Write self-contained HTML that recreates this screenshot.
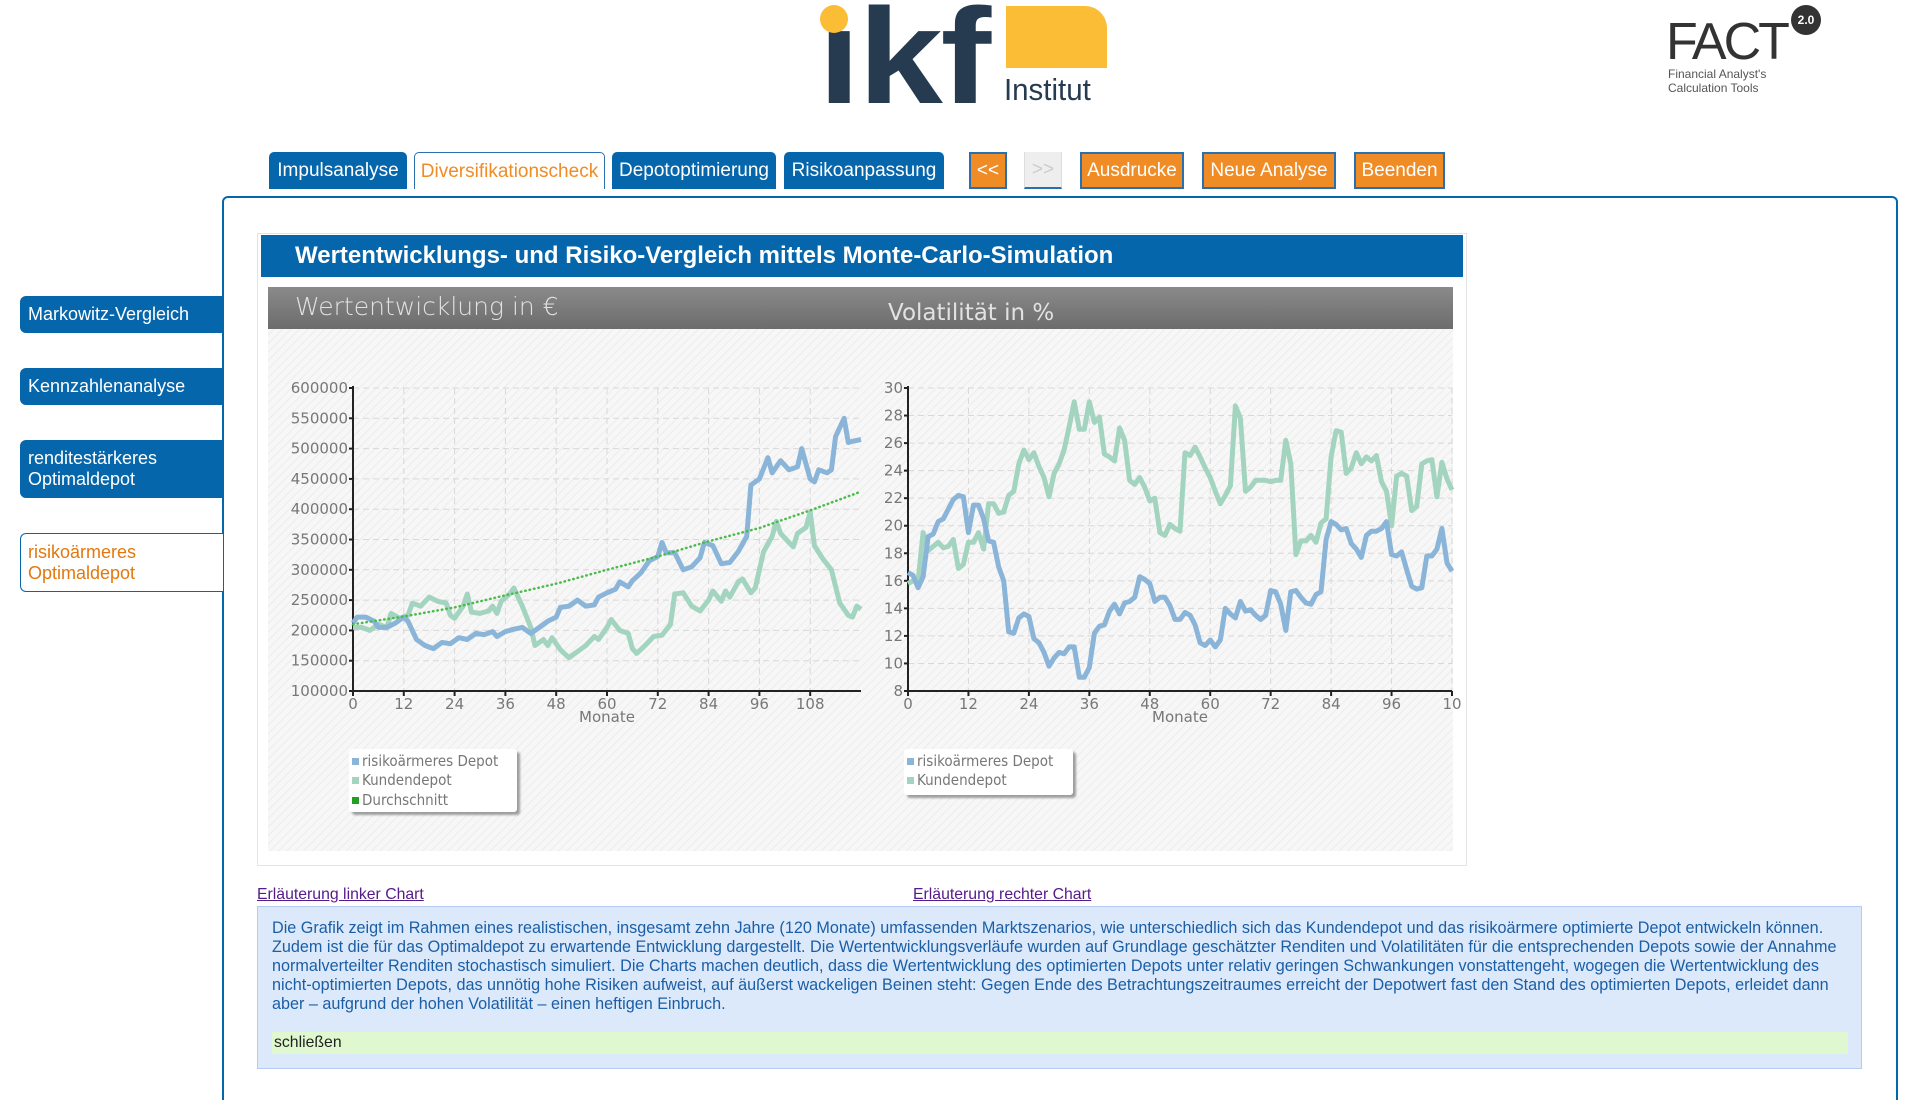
<!DOCTYPE html>
<html><head><meta charset="utf-8">
<style>
html,body{margin:0;width:1920px;height:1100px;overflow:hidden;}
body{position:relative;background:#fff;font-family:"Liberation Sans",Arial,sans-serif;}
.abs{position:absolute;}
.tab{position:absolute;top:152px;height:37px;box-sizing:border-box;color:#fff;font-size:19px;line-height:37px;text-align:center;white-space:nowrap;}
.tb{background:#0566ab;border-radius:5px 5px 0 0;}
.to{background:#ef8c25;border:2px solid #2a6fb0;line-height:33px;}
.side{position:absolute;left:20px;width:203px;box-sizing:border-box;background:#0566ab;color:#fff;font-size:18px;padding-left:8px;border-radius:6px 0 0 6px;display:flex;align-items:center;line-height:21px;}
</style></head><body>
<!-- logo -->
<div class="abs" style="left:812px;top:0;width:300px;height:110px;">
  <div class="abs" style="left:6px;font-size:136px;font-weight:bold;color:#263a50;letter-spacing:-2px;line-height:136px;transform:scaleX(1.12);transform-origin:0 0;top:-12px;">ık<span style="letter-spacing:0">f</span></div>
  <div class="abs" style="left:8px;top:5px;width:28px;height:28px;border-radius:50%;background:#fbbd36;"></div>
  <div class="abs" style="left:194px;top:6px;width:101px;height:62px;background:#fbbd36;border-radius:0 22px 0 0;"></div>
  <div class="abs" style="left:192px;top:72px;font-size:31px;color:#263a50;transform:scaleX(0.95);transform-origin:0 0;">Institut</div>
</div>
<div class="abs" style="left:1666px;top:4px;width:160px;height:95px;">
  <div class="abs" style="left:0;top:10px;font-size:52px;color:#333;letter-spacing:-3px;line-height:56px;">FACT</div>
  <div class="abs" style="left:125px;top:1px;width:30px;height:30px;border-radius:50%;background:#333;color:#fff;font-size:12px;font-weight:bold;line-height:30px;text-align:center;">2.0</div>
  <div class="abs" style="left:2px;top:63px;font-size:12px;color:#555;line-height:14px;">Financial Analyst's<br>Calculation Tools</div>
</div>
<!-- tabs -->
<div class="tab tb" style="left:269px;width:138px;">Impulsanalyse</div>
<div class="tab" style="left:414px;width:191px;border:1px solid #2a6fb0;border-bottom:none;border-radius:5px 5px 0 0;color:#ef8c25;background:#fff;">Diversifikationscheck</div>
<div class="tab tb" style="left:612px;width:164px;">Depotoptimierung</div>
<div class="tab tb" style="left:784px;width:160px;">Risikoanpassung</div>
<div class="tab to" style="left:969px;width:38px;">&lt;&lt;</div>
<div class="tab" style="left:1024px;width:38px;background:#eee;border:2px solid #2a6fb0;border-top:none;border-left:1px solid #ddd;border-right:1px solid #ddd;color:#ccc;line-height:35px;">&gt;&gt;</div>
<div class="tab to" style="left:1080px;width:104px;">Ausdrucke</div>
<div class="tab to" style="left:1202px;width:134px;">Neue Analyse</div>
<div class="tab to" style="left:1354px;width:91px;">Beenden</div>
<!-- main panel -->
<div class="abs" style="left:222px;top:196px;width:1676px;height:904px;border:2px solid #0566ab;border-bottom:none;border-radius:6px 6px 0 0;box-sizing:border-box;"></div>
<!-- sidebar -->
<div class="side" style="top:296px;height:37px;">Markowitz-Vergleich</div>
<div class="side" style="top:368px;height:37px;">Kennzahlenanalyse</div>
<div class="side" style="top:440px;height:58px;">renditestärkeres<br>Optimaldepot</div>
<div class="side" style="top:533px;height:59px;background:#fff;color:#e2780e;border:1px solid #0566ab;border-right:none;padding-left:7px;">risikoärmeres<br>Optimaldepot</div>
<!-- chart box -->
<div class="abs" style="left:257px;top:233px;width:1210px;height:633px;border:1px solid #e4e4e4;box-sizing:border-box;"></div>
<div class="abs" style="left:261px;top:235px;width:1202px;height:42px;background:#0566ab;color:#fff;font-weight:bold;font-size:24px;line-height:42px;box-sizing:border-box;padding-left:34px;white-space:nowrap;">Wertentwicklungs- und Risiko-Vergleich mittels Monte-Carlo-Simulation</div>
<svg class="abs" style="left:0;top:0" width="1920" height="1100" id="charts">
  <defs>
    <pattern id="hatch" width="6" height="6" patternUnits="userSpaceOnUse" patternTransform="rotate(45)">
      <rect width="6" height="6" fill="#f7f7f7"/><line x1="0" y1="0" x2="0" y2="6" stroke="#ececec" stroke-width="2"/>
    </pattern>
    <linearGradient id="gb" x1="0" y1="0" x2="0" y2="1"><stop offset="0" stop-color="#8a8a8a"/><stop offset="1" stop-color="#6c6c6c"/></linearGradient>
    <filter id="sh"><feDropShadow dx="3" dy="3" stdDeviation="1" flood-color="#888" flood-opacity="0.8"/></filter>
  </defs>
  <rect x="268" y="287" width="1185" height="42" fill="url(#gb)"/>
  <rect x="268" y="329" width="1185" height="522" fill="url(#hatch)"/>
  <text x="295" y="315" font-size="25" fill="#e2e2e2" font-family="DejaVu Sans, sans-serif" font-weight="300">Wertentwicklung in €</text>
  <text x="888" y="320" font-size="23" fill="#e2e2e2" font-family="DejaVu Sans, sans-serif">Volatilität in %</text>
  <g id="lc"></g><g id="rc"></g>
  <g>
    <rect x="349" y="749" width="168" height="63" fill="#fff" filter="url(#sh)" rx="3"/>
    <rect x="352" y="758" width="7" height="7" fill="#8ab4d8"/><text x="362" y="766" font-size="15" fill="#777" font-family="DejaVu Sans Condensed, DejaVu Sans, sans-serif">risikoärmeres Depot</text>
    <rect x="352" y="777" width="7" height="7" fill="#a3d4bf"/><text x="362" y="785" font-size="15" fill="#777" font-family="DejaVu Sans Condensed, DejaVu Sans, sans-serif">Kundendepot</text>
    <rect x="352" y="797" width="7" height="7" fill="#22a022"/><text x="362" y="805" font-size="15" fill="#777" font-family="DejaVu Sans Condensed, DejaVu Sans, sans-serif">Durchschnitt</text>
  </g>
  <g>
    <rect x="904" y="749" width="169" height="46" fill="#fff" filter="url(#sh)" rx="3"/>
    <rect x="907" y="758" width="7" height="7" fill="#8ab4d8"/><text x="917" y="766" font-size="15" fill="#777" font-family="DejaVu Sans Condensed, DejaVu Sans, sans-serif">risikoärmeres Depot</text>
    <rect x="907" y="777" width="7" height="7" fill="#a3d4bf"/><text x="917" y="785" font-size="15" fill="#777" font-family="DejaVu Sans Condensed, DejaVu Sans, sans-serif">Kundendepot</text>
  </g>
</svg>
<a class="abs" style="left:257px;top:886px;font-size:15.8px;color:#551a8b;text-decoration:underline;">Erläuterung linker Chart</a>
<a class="abs" style="left:913px;top:886px;font-size:15.8px;color:#551a8b;text-decoration:underline;">Erläuterung rechter Chart</a>
<div class="abs" style="left:257px;top:906px;width:1605px;height:163px;background:#dce9fb;border:1px solid #b8c9f2;box-sizing:border-box;"></div>
<div class="abs" style="left:272px;top:919px;font-size:16.2px;line-height:19px;color:#1a5ea6;white-space:nowrap;">Die Grafik zeigt im Rahmen eines realistischen, insgesamt zehn Jahre (120 Monate) umfassenden Marktszenarios, wie unterschiedlich sich das Kundendepot und das risikoärmere optimierte Depot entwickeln können.<br>Zudem ist die für das Optimaldepot zu erwartende Entwicklung dargestellt. Die Wertentwicklungsverläufe wurden auf Grundlage geschätzter Renditen und Volatilitäten für die entsprechenden Depots sowie der Annahme<br>normalverteilter Renditen stochastisch simuliert. Die Charts machen deutlich, dass die Wertentwicklung des optimierten Depots unter relativ geringen Schwankungen vonstattengeht, wogegen die Wertentwicklung des<br>nicht-optimierten Depots, das unnötig hohe Risiken aufweist, auf äußerst wackeligen Beinen steht: Gegen Ende des Betrachtungszeitraumes erreicht der Depotwert fast den Stand des optimierten Depots, erleidet dann<br>aber – aufgrund der hohen Volatilität – einen heftigen Einbruch.</div>
<div class="abs" style="left:272px;top:1032px;width:1576px;height:22px;background:#e0f8d0;font-size:15.8px;line-height:22px;color:#222;padding-left:2px;box-sizing:border-box;">schließen</div>
<script>
// Left chart data (values in thousand €)
const leftMonthsBlue=[0,1,3,5,6,8,10,12,13,15,17,19,21,23,25,27,29,31,33,34,36,38,40,42,44,46,48,49,51,53,55,57,58,60,62,63,65,66,68,70,72,73,74,76,78,80,82,83,85,87,89,91,93,94,96,98,99,101,103,105,106,108,109,110,112,113,114,116,117,118,120];
const leftBlue=[212,222,222,215,205,205,212,222,215,185,175,170,180,178,188,185,195,193,198,190,198,202,205,195,205,215,222,238,240,250,240,242,255,262,268,280,272,282,295,315,322,345,328,328,300,305,320,345,340,310,312,330,355,440,450,485,460,480,465,470,500,450,445,465,460,465,520,550,510,512,515];
const leftMonthsGreen=[0,2,4,6,8,9,11,13,14,16,18,20,22,23,24,26,27,28,30,32,33,34,35,37,38,40,42,43,45,46,47,49,51,53,55,57,58,60,61,63,65,66,67,69,71,73,75,76,78,80,82,84,85,87,88,89,91,92,94,95,97,99,100,101,103,104,105,107,108,109,111,113,115,117,118,119,120];
const leftGreen=[205,205,200,210,205,228,220,225,245,240,255,248,245,225,220,240,260,230,228,232,240,228,248,260,270,240,205,175,185,175,188,168,155,165,175,190,185,205,218,200,195,170,162,175,190,192,210,260,262,240,232,250,265,248,265,255,280,285,262,270,330,355,380,360,345,338,360,370,395,340,318,300,245,225,222,240,235];
const leftMonthsAvg=[0,12,24,36,48,60,72,84,96,108,120];
const leftAvg=[210,223,238,258,277,300,322,347,369,398,429];
const leftYTicks=[100000,150000,200000,250000,300000,350000,400000,450000,500000,550000,600000];
const leftXTicks=[0,12,24,36,48,60,72,84,96,108];
// Right chart data (volatility %)
const rightBlue=[16.6,16.4,15.5,16.3,19.2,19.4,20.3,20.5,21.2,21.9,22.2,22.1,19.5,21.5,21.5,20.5,18.9,18.8,17,16,12.3,12.2,13.3,13.6,13.4,11.8,11.5,10.8,9.8,10.4,10.8,10.7,11.2,11.2,9.0,9.0,9.7,12.2,12.7,12.8,13.8,14.3,13.6,14.4,14.5,14.8,16.3,16.1,15.8,14.5,14.8,14.8,14.2,13.2,13.2,13.7,13.5,12.8,11.5,11.3,11.7,11.2,11.7,14.0,13.6,13.3,14.5,13.8,13.9,13.5,13.2,13.5,15.3,15.2,14.3,12.4,15.2,15.3,14.8,14.4,14.3,15,15.2,19,20.3,20.1,19.7,19.8,18.7,18.3,17.7,19.3,19.6,19.6,19.8,20.3,17.9,17.8,18.1,16.8,15.6,15.4,15.5,17.8,17.8,18.3,19.8,17.3,16.7];
const rightGreen=[15.8,16,16,19.5,18.2,18.5,18.8,18.4,18.5,19,16.9,17.2,18.8,18.8,19.5,18.3,21.6,21.6,20.9,21,22.2,22.5,24.5,25.5,24.8,25.3,24.3,23.5,22.1,23.8,24.5,25.5,27.2,29,27,27,29,27.5,27.9,25.2,25,24.7,27.1,26.2,23.3,23,23.5,22.8,21.8,22,19.5,19.3,20.1,19.8,19.6,25.3,25.1,25.7,25,24.2,23.5,22.5,21.6,22.2,22.9,28.7,27.8,22.5,22.8,23.3,23.3,23.3,23.2,23.3,23.3,26.2,24.5,17.9,18.9,18.9,19.3,18.8,20.2,20.5,25,26.9,26.8,23.8,24.2,25.3,24.5,25,24.7,25.1,23.2,22.5,20,23.6,23.8,23.6,21.1,21.4,24.5,24.7,24.8,22.1,24.6,23.4,22.6];
const rightYTicks=[8,10,12,14,16,18,20,22,24,26,28,30];
const rightXTicks=[0,12,24,36,48,60,72,84,96,108];

const NS='http://www.w3.org/2000/svg';
function mk(tag,attrs,parent){const e=document.createElementNS(NS,tag);for(const k in attrs)e.setAttribute(k,attrs[k]);parent.appendChild(e);return e;}
function drawChart(g,o){
  const sx=v=>o.x0+(v-o.xmin)/(o.xmax-o.xmin)*(o.x1-o.x0);
  const sy=v=>o.y0-(v-o.ymin)/(o.ymax-o.ymin)*(o.y0-o.y1);
  o.yt.forEach(t=>{
    const y=sy(t);
    const l=mk('line',{x1:o.x0,x2:o.x1,y1:y,y2:y,stroke:'#d8d8d8','stroke-dasharray':'6,4','stroke-width':1},g);
    
    
    mk('line',{x1:o.x0-4,x2:o.x0,y1:y,y2:y,stroke:'#222','stroke-width':2},g);
    const tx=mk('text',{x:o.x0-5,y:y+5,'text-anchor':'end','font-size':15,fill:'#777','font-family':'DejaVu Sans, sans-serif'},g);
    tx.textContent=t;
    
    
  });
  o.xt.forEach((t,i)=>{
    const x=sx(t);
    if(t>0){const l=mk('line',{x1:x,x2:x,y1:o.y1,y2:o.y0,stroke:'#d8d8d8','stroke-dasharray':'6,4','stroke-width':1},g);
    
    }
    mk('line',{x1:x,x2:x,y1:o.y0,y2:o.y0+5,stroke:'#222','stroke-width':2},g);
    const tx=mk('text',{x:x,y:o.y0+18,'text-anchor':'middle','font-size':15,fill:'#777','font-family':'DejaVu Sans, sans-serif'},g);
    tx.textContent=(o.clipLast&&i===o.xt.length-1)?String(t).slice(0,2):t;
    
    
  });
  const ax=mk('path',{d:`M${o.x0},${o.y1-2}V${o.y0}H${o.x1}`,fill:'none',stroke:'#222','stroke-width':2},g);
  
  
  const mt=mk('text',{x:(o.x0+o.x1)/2,y:o.y0+31,'text-anchor':'middle','font-size':15,fill:'#777','font-family':'DejaVu Sans, sans-serif'},g);
  mt.textContent='Monate';
  
  
  o.series.forEach(s=>{
    const d=s.vals.map((v,i)=>(i?'L':'M')+sx(s.xs[i]).toFixed(1)+','+sy(v*s.mul).toFixed(1)).join('');
    const p=mk('path',{d:d,fill:'none',stroke:s.color,'stroke-width':s.w,'stroke-linejoin':'round','stroke-linecap':s.dash?'round':'butt'},g);
    if(s.dash)p.setAttribute('stroke-dasharray',s.dash);
    
    
  });
}
const rMonths=rightBlue.map((_,i)=>i);
drawChart(document.getElementById('lc'),{x0:353,x1:861,y0:691,y1:388,xmin:0,xmax:120,ymin:100000,ymax:600000,yt:leftYTicks,xt:leftXTicks,
 series:[{xs:leftMonthsGreen,vals:leftGreen,mul:1000,color:'#a3d4bf',w:5,name:'kundendepot-line'},
         {xs:leftMonthsBlue,vals:leftBlue,mul:1000,color:'#8ab4d8',w:5,name:'risikoaermeres-depot-line'},
         {xs:leftMonthsAvg,vals:leftAvg,mul:1000,color:'#4cbb4c',w:2.5,dash:'0.5,4',name:'durchschnitt-line'}]});
drawChart(document.getElementById('rc'),{x0:908,x1:1452,y0:691,y1:388,xmin:0,xmax:108,ymin:8,ymax:30,yt:rightYTicks,xt:rightXTicks,clipLast:true,
 series:[{xs:rMonths,vals:rightGreen,mul:1,color:'#a3d4bf',w:5,name:'kundendepot-vol-line'},
         {xs:rMonths,vals:rightBlue,mul:1,color:'#8ab4d8',w:5,name:'risikoaermeres-vol-line'}]});
</script>
</body></html>
